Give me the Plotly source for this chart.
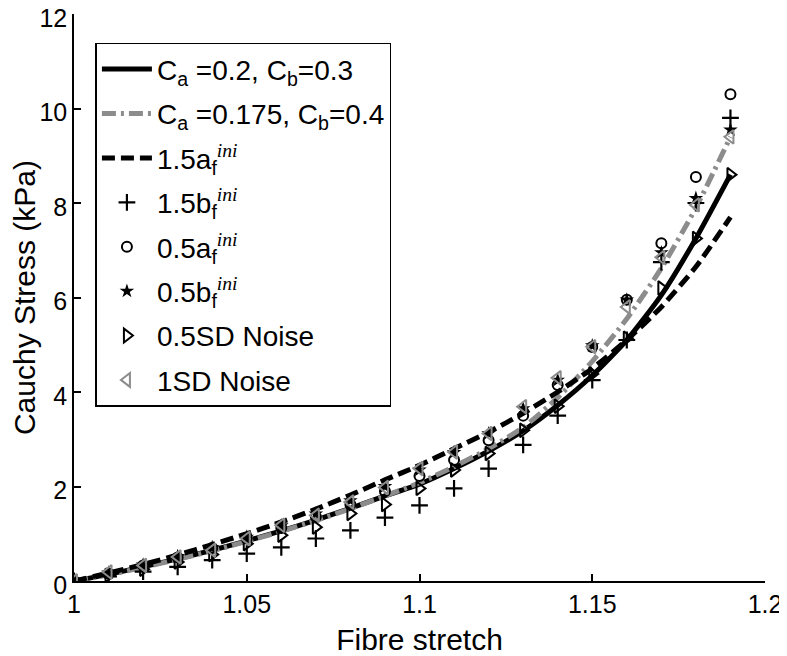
import plotly.graph_objects as go

# fibre stretch values
stretch = [1.00, 1.01, 1.02, 1.03, 1.04, 1.05, 1.06, 1.07, 1.08, 1.09,
           1.10, 1.11, 1.12, 1.13, 1.14, 1.15, 1.16, 1.17, 1.18, 1.19]

# model curves (kPa)
fit_ca02_cb03 = [0, 0.14, 0.30, 0.47, 0.65, 0.85, 1.06, 1.29, 1.54, 1.80,
                 2.05, 2.38, 2.75, 3.18, 3.72, 4.35, 5.10, 6.05, 7.25, 8.60]
fit_ca0175_cb04 = [0, 0.13, 0.29, 0.46, 0.64, 0.84, 1.05, 1.28, 1.53, 1.80,
                   2.08, 2.42, 2.80, 3.25, 3.88, 4.65, 5.55, 6.62, 7.90, 9.40]
a15 = [0, 0.17, 0.35, 0.55, 0.77, 1.00, 1.25, 1.52, 1.82, 2.14,
       2.45, 2.80, 3.15, 3.55, 4.00, 4.50, 5.10, 5.80, 6.65, 7.70]

# marker series (kPa)
b15 = [0, 0.10, 0.20, 0.30, 0.44, 0.58, 0.71, 0.90, 1.07, 1.34,
       1.60, 1.96, 2.38, 2.88, 3.50, 4.25, 5.10, 6.75, 8.00, 9.80]
a05 = [0, 0.16, 0.33, 0.50, 0.70, 0.90, 1.12, 1.36, 1.62, 1.90,
       2.22, 2.56, 2.98, 3.50, 4.15, 4.95, 5.95, 7.15, 8.55, 10.30]
b05 = [0, 0.17, 0.34, 0.52, 0.71, 0.93, 1.17, 1.42, 1.70, 2.00,
       2.35, 2.72, 3.12, 3.65, 4.25, 4.98, 5.95, 6.95, 8.10, 9.55]
noise_05sd = [0, 0.12, 0.25, 0.40, 0.56, 0.79, 0.97, 1.14, 1.43, 1.62,
              1.96, 2.35, 2.70, 3.19, 3.70, 4.38, 5.14, 6.20, 7.25, 8.60]
noise_1sd = [0, 0.19, 0.33, 0.51, 0.65, 0.90, 1.18, 1.39, 1.67, 1.98,
             2.38, 2.73, 3.12, 3.69, 4.30, 4.96, 5.80, 6.85, 7.96, 9.40]

grey = "#8c8c8c"
ini = "<span style='font-family:Liberation Serif'><i>ini</i></span>"

fig = go.Figure()
fig.add_trace(go.Scatter(x=stretch, y=fit_ca02_cb03, mode="lines", legendgroup="g1",
                         name="C<sub>a</sub> =0.2, C<sub>b</sub>=0.3",
                         line=dict(color="black", width=5, shape="spline", smoothing=0.6)))
fig.add_trace(go.Scatter(x=stretch, y=fit_ca0175_cb04, mode="lines", legendgroup="g2",
                         name="C<sub>a</sub> =0.175, C<sub>b</sub>=0.4",
                         line=dict(color=grey, width=5, dash="14px,5px,3px,5px",
                                   shape="spline", smoothing=0.6)))
fig.add_trace(go.Scatter(x=stretch, y=a15, mode="lines", legendgroup="g3",
                         name="1.5a<sub>f</sub><sup>" + ini + "</sup>",
                         line=dict(color="black", width=5, dash="13px,6px",
                                   shape="spline", smoothing=0.6)))
fig.add_trace(go.Scatter(x=stretch, y=b15, mode="markers", legendgroup="g4",
                         name="1.5b<sub>f</sub><sup>" + ini + "</sup>",
                         marker=dict(symbol="cross-thin", size=12, color="black",
                                     line=dict(color="black", width=2.2))))
fig.add_trace(go.Scatter(x=stretch, y=a05, mode="markers", legendgroup="g5",
                         name="0.5a<sub>f</sub><sup>" + ini + "</sup>",
                         marker=dict(symbol="circle-open", size=10, color="black",
                                     line=dict(color="black", width=2))))
fig.add_trace(go.Scatter(x=stretch, y=b05, mode="markers", legendgroup="g6",
                         name="0.5b<sub>f</sub><sup>" + ini + "</sup>",
                         marker=dict(symbol="star", size=11, color="black")))
fig.add_trace(go.Scatter(x=stretch, y=noise_05sd, mode="markers", legendgroup="g7",
                         name="0.5SD Noise",
                         marker=dict(symbol="triangle-right-open", size=12, color="black",
                                     line=dict(color="black", width=2))))
fig.add_trace(go.Scatter(x=stretch, y=noise_1sd, mode="markers", legendgroup="g8",
                         name="1SD Noise",
                         marker=dict(symbol="triangle-left-open", size=12, color=grey,
                                     line=dict(color=grey, width=2))))

axis_style = dict(showgrid=False, zeroline=False, showline=True, linecolor="black",
                  linewidth=1.5, ticks="inside", ticklen=7, tickcolor="black",
                  tickwidth=1.5, mirror=False, ticklabeloverflow="allow",
                  automargin=False)

fig.update_xaxes(range=[1, 1.2], tickvals=[1, 1.05, 1.1, 1.15, 1.2],
                 ticktext=["1", "1.05", "1.1", "1.15", "1.2"],
                 title=dict(text="Fibre stretch", standoff=12), **axis_style)
fig.update_yaxes(range=[0, 12], dtick=2, ticklabelshift=4,
                 title=dict(text="Cauchy Stress (kPa)", standoff=6),
                 **axis_style)

# the page body adds an 8px offset, so the figure is drawn 8px smaller
fig.update_layout(
    width=779, height=648,
    margin=dict(l=66, r=22, t=6, b=75),
    paper_bgcolor="white", plot_bgcolor="white",
    font=dict(family="Liberation Sans, Arial", size=25, color="black"),
    legend=dict(x=0.031, y=0.949, xanchor="left", yanchor="top",
                bordercolor="black", borderwidth=1.5, bgcolor="white",
                font=dict(size=28), tracegroupgap=5, itemwidth=50),
)

fig.write_html("out.html")
